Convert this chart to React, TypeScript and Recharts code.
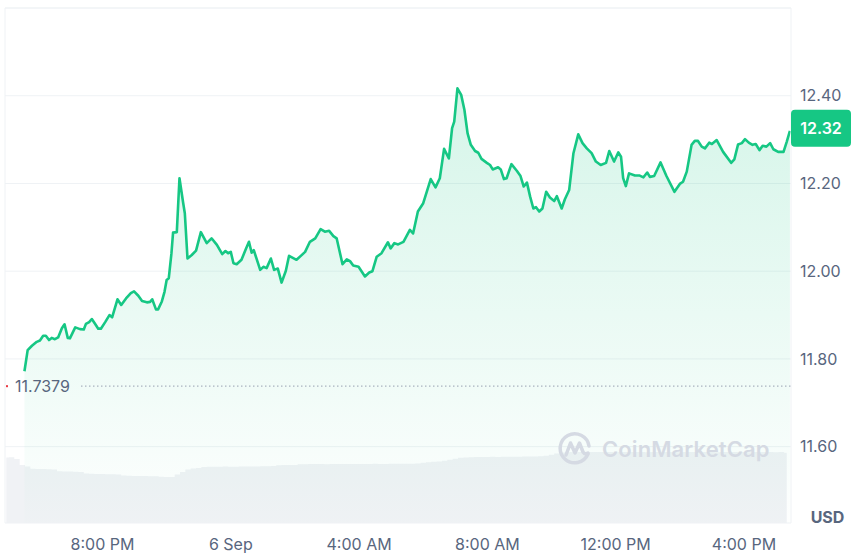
import {
  Area,
  CartesianGrid,
  ComposedChart,
  ReferenceLine,
  XAxis,
  YAxis,
} from "recharts";

// time = minutes since 5 Sep 00:00
const priceTimes = [
  1054, 1060, 1068, 1077, 1083, 1089, 1094, 1100, 1105, 1111,
  1117, 1124, 1129, 1135, 1139, 1149, 1158, 1165, 1169, 1175,
  1180, 1186, 1192, 1197, 1205, 1213, 1218, 1228, 1235, 1244,
  1253, 1259, 1267, 1274, 1283, 1289, 1293, 1300, 1304, 1311,
  1316, 1320, 1324, 1329, 1332, 1339, 1344, 1351, 1354, 1359,
  1367, 1375, 1384, 1395, 1404, 1414, 1424, 1430, 1435, 1440,
  1445, 1451, 1460, 1468, 1474, 1479, 1483, 1495, 1501, 1507,
  1515, 1521, 1528, 1535, 1543, 1549, 1563, 1571, 1579, 1588,
  1598, 1608, 1616, 1624, 1632, 1638, 1649, 1657, 1663, 1669,
  1679, 1691, 1699, 1705, 1713, 1722, 1734, 1739, 1746, 1753,
  1763, 1775, 1781, 1790, 1800, 1814, 1823, 1831, 1839, 1848,
  1854, 1858, 1864, 1871, 1877, 1883, 1889, 1897, 1903, 1909,
  1919, 1925, 1930, 1940, 1945, 1951, 1956, 1965, 1975, 1982,
  1988, 1994, 2000, 2006, 2011, 2017, 2023, 2030, 2037, 2045,
  2050, 2059, 2065, 2073, 2081, 2090, 2098, 2106, 2115, 2123,
  2132, 2142, 2148, 2157, 2165, 2170, 2174, 2179, 2185, 2196,
  2205, 2212, 2219, 2224, 2232, 2244, 2255, 2270, 2280, 2286,
  2293, 2302, 2308, 2314, 2321, 2327, 2335, 2340, 2349, 2361,
  2376, 2382, 2389, 2396, 2402, 2409, 2416, 2422, 2429, 2435,
  2442, 2449, 2455, 2464, 2474, 2480, 2486,
];

const prices = [
  11.772, 11.82, 11.83, 11.839, 11.842, 11.853, 11.853, 11.843, 11.848, 11.845,
  11.849, 11.87, 11.879, 11.848, 11.847, 11.872, 11.868, 11.867, 11.88, 11.884,
  11.891, 11.88, 11.869, 11.869, 11.884, 11.9, 11.895, 11.936, 11.923, 11.938,
  11.95, 11.954, 11.944, 11.932, 11.929, 11.93, 11.936, 11.913, 11.913, 11.931,
  11.953, 11.98, 11.984, 12.041, 12.088, 12.089, 12.212, 12.155, 12.132, 12.029,
  12.037, 12.047, 12.089, 12.064, 12.075, 12.06, 12.039, 12.046, 12.041, 12.044,
  12.018, 12.016, 12.026, 12.05, 12.067, 12.042, 12.048, 12.003, 12.01, 12.007,
  12.029, 12.003, 12.006, 11.974, 12.001, 12.035, 12.026, 12.035, 12.044, 12.067,
  12.075, 12.096, 12.09, 12.092, 12.08, 12.075, 12.016, 12.027, 12.023, 12.013,
  12.01, 11.988, 11.997, 12.0, 12.033, 12.041, 12.066, 12.052, 12.064, 12.061,
  12.067, 12.094, 12.086, 12.136, 12.155, 12.21, 12.191, 12.212, 12.279, 12.257,
  12.326, 12.341, 12.417, 12.402, 12.368, 12.314, 12.288, 12.274, 12.27, 12.256,
  12.247, 12.242, 12.232, 12.237, 12.232, 12.21, 12.212, 12.244, 12.229, 12.217,
  12.193, 12.202, 12.17, 12.143, 12.146, 12.136, 12.143, 12.181, 12.168, 12.16,
  12.171, 12.143, 12.164, 12.185, 12.269, 12.312, 12.292, 12.28, 12.269, 12.25,
  12.242, 12.247, 12.274, 12.25, 12.271, 12.261, 12.212, 12.194, 12.223, 12.218,
  12.218, 12.214, 12.225, 12.215, 12.217, 12.248, 12.217, 12.181, 12.199, 12.204,
  12.227, 12.288, 12.297, 12.297, 12.284, 12.28, 12.293, 12.29, 12.299, 12.272,
  12.247, 12.255, 12.289, 12.292, 12.301, 12.293, 12.288, 12.29, 12.276, 12.286,
  12.284, 12.292, 12.278, 12.272, 12.272, 12.295, 12.32,
];

// 24h volume (M USD), one value every 10 minutes from 17:00
const volumeStart = 1020;
const volumeStep = 10;
const volumes = [
  50.9, 51.0, 49.8, 45.0, 43.9, 42.1, 41.9, 41.9, 41.7, 41.6,
  40.2, 40.0, 40.0, 39.8, 39.6, 38.4, 38.2, 38.1, 38.1, 37.9,
  37.8, 37.6, 36.9, 36.7, 36.6, 36.5, 36.5, 36.4, 36.3, 35.9,
  35.7, 35.8, 37.6, 39.6, 41.5, 42.3, 42.8, 43.4, 43.6, 43.7,
  43.7, 43.8, 43.7, 43.7, 43.9, 43.8, 43.8, 43.9, 44.0, 44.0,
  44.2, 44.8, 45.0, 45.0, 45.1, 45.6, 45.7, 45.8, 45.8, 45.8,
  45.7, 45.8, 45.9, 45.8, 45.8, 45.9, 45.9, 45.8, 45.9, 46.0,
  45.9, 45.9, 46.0, 46.0, 46.1, 46.0, 46.1, 46.2, 46.8, 47.2,
  47.5, 47.8, 48.3, 49.2, 49.9, 50.6, 50.9, 51.1, 51.2, 51.3,
  51.3, 51.4, 51.3, 51.4, 51.5, 51.4, 51.5, 51.6, 51.6, 51.7,
  51.8, 52.2, 53.0, 54.0, 54.8, 55.0, 55.1, 55.1, 55.0, 55.1,
  55.2, 55.1, 55.1, 55.2, 55.0, 55.1, 55.1, 55.2, 55.2, 55.1,
  55.0, 55.1, 55.1, 55.2, 55.1, 55.1, 55.0, 55.1, 55.2, 55.1,
  55.1, 55.2, 55.1, 55.0, 55.1, 55.1, 55.2, 55.1, 55.1, 55.0,
  55.1, 55.1, 55.2, 55.1, 55.0, 55.1, 54.6,
];

const openPrice = 11.7379;
const xTicks = [1200, 1440, 1680, 1920, 2160, 2400];
const xTickLabels = ["8:00 PM", "6 Sep", "4:00 AM", "8:00 AM", "12:00 PM", "4:00 PM"];
const yTicks = [11.6, 11.8, 12.0, 12.2, 12.4];

const X_MIN = 1017.6;
const X_MAX = 2488;
const Y_MIN = 11.426;
const Y_MAX = 12.6;
const OPEN_LINE_START = 1160; // dotted line begins right of its label

const GREEN = "#16c784";
const TEXT = "#58667e";
const GRID = "#eff2f5";

const priceData = priceTimes.map((t, i) => ({ t, price: prices[i] }));
const volumeData = volumes.map((v, i) => ({ t: volumeStart + i * volumeStep, vol: v }));
const lastPrice = prices[prices.length - 1];

const OpenLabel = ({ viewBox }: any) => (
  <g>
    <rect x={viewBox.x + 1} y={viewBox.y - 1} width={2} height={2} fill="#ea3943" />
    <text
      x={viewBox.x + 10}
      y={viewBox.y}
      dominantBaseline="central"
      fontSize={16}
      fill={TEXT}
    >
      {openPrice.toFixed(4)}
    </text>
  </g>
);

const PriceBadge = ({ viewBox }: any) => {
  const x = viewBox.x + viewBox.width;
  return (
    <g>
      <rect x={x} y={viewBox.y - 21} width={60} height={37} rx={4} fill={GREEN} />
      <text
        x={x + 30}
        y={viewBox.y - 2.5}
        textAnchor="middle"
        dominantBaseline="central"
        fontSize={16}
        fontWeight={600}
        fill="#fff"
      >
        {lastPrice.toFixed(2)}
      </text>
    </g>
  );
};

const UsdLabel = ({ viewBox }: any) => (
  <text
    x={viewBox.x + 36.5}
    y={viewBox.y + viewBox.height - 0.5}
    textAnchor="middle"
    fontSize={16}
    fontWeight={700}
    fill={TEXT}
  >
    USD
  </text>
);

const Watermark = () => (
  <div
    style={{
      position: "absolute",
      left: 557,
      top: 431,
      display: "flex",
      alignItems: "center",
      gap: 9,
      pointerEvents: "none",
      color: "#d5dae3",
    }}
  >
    <svg width={36} height={36} viewBox="0 0 36 36">
      <path
        d="M31 23 A14.5 14.5 0 1 1 32 15"
        fill="none"
        stroke="#d5dae3"
        strokeWidth={3.5}
        strokeLinecap="round"
      />
      <path
        d="M9 24 L13.5 12 L18 22 L22.5 12 L26 21 Q28 24 31 22"
        fill="none"
        stroke="#d5dae3"
        strokeWidth={3.5}
        strokeLinecap="round"
        strokeLinejoin="round"
      />
    </svg>
    <span style={{ fontSize: 22, fontWeight: 600, letterSpacing: 0.1 }}>CoinMarketCap</span>
  </div>
);

export default function App() {
  return (
    <div
      style={{
        position: "absolute",
        left: 0,
        top: 0,
        width: 853,
        height: 555,
        background: "#fff",
        fontFamily: "Inter, 'Noto Sans', sans-serif",
      }}
    >
      <ComposedChart
        width={853}
        height={555}
        data={volumeData}
        margin={{ top: 8, right: 0, bottom: 0, left: 5 }}
      >
        <defs>
          <linearGradient id="areaFill" x1="0" y1="0" x2="0" y2="1">
            <stop offset="0%" stopColor={GREEN} stopOpacity={0.3} />
            <stop offset="100%" stopColor={GREEN} stopOpacity={0.01} />
          </linearGradient>
        </defs>
        <CartesianGrid vertical={false} stroke={GRID} yAxisId="price" />
        <XAxis
          dataKey="t"
          type="number"
          domain={[X_MIN, X_MAX]}
          allowDataOverflow
          ticks={xTicks}
          interval={0}
          tickFormatter={(v) => xTickLabels[xTicks.indexOf(v)] ?? ""}
          axisLine={false}
          tickLine={false}
          tickMargin={10}
          height={32}
          tick={{ fill: TEXT, fontSize: 16 }}
        />
        <YAxis
          yAxisId="price"
          orientation="right"
          width={62}
          domain={[Y_MIN, Y_MAX]}
          allowDataOverflow
          ticks={yTicks}
          interval={0}
          tickFormatter={(v) => Number(v).toFixed(2)}
          axisLine={false}
          tickLine={false}
          tickMargin={3}
          tick={{ fill: TEXT, fontSize: 16 }}
          label={{ content: UsdLabel }}
        />
        <YAxis yAxisId="vol" hide domain={[0, 400]} />
        <Area
          yAxisId="vol"
          dataKey="vol"
          type="step"
          stroke="none"
          fill="#f0f2f5"
          fillOpacity={1}
          dot={false}
          activeDot={false}
          isAnimationActive={false}
        />
        <Area
          yAxisId="price"
          data={priceData}
          dataKey="price"
          type="linear"
          stroke={GREEN}
          strokeWidth={2.6}
          strokeLinejoin="round"
          fill="url(#areaFill)"
          dot={false}
          activeDot={false}
          isAnimationActive={false}
        />
        <ReferenceLine yAxisId="price" y={Y_MAX} stroke={GRID} />
        <ReferenceLine yAxisId="price" x={X_MIN} stroke={GRID} />
        <ReferenceLine yAxisId="price" x={X_MAX} stroke={GRID} />
        <ReferenceLine
          yAxisId="price"
          segment={[
            { x: OPEN_LINE_START, y: openPrice },
            { x: X_MAX, y: openPrice },
          ]}
          stroke="#a1a9b8"
          strokeWidth={1.3}
          strokeDasharray="1.3 2.7"
        />
        <ReferenceLine
          yAxisId="price"
          y={openPrice}
          stroke="none"
          label={{ content: OpenLabel }}
        />
        <ReferenceLine
          yAxisId="price"
          y={lastPrice}
          stroke="none"
          label={{ content: PriceBadge }}
        />
      </ComposedChart>
      <Watermark />
    </div>
  );
}
